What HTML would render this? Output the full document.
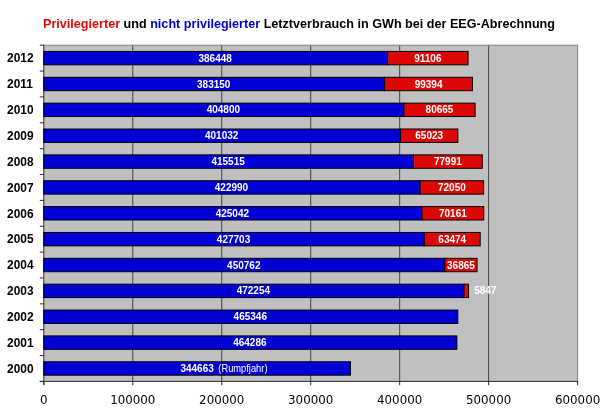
<!DOCTYPE html>
<html><head><meta charset="utf-8"><title>EEG Letztverbrauch</title>
<style>
html,body{margin:0;padding:0;background:#fff;}
body{width:600px;height:416px;overflow:hidden;}
svg{display:block;will-change:transform;}
.t{font-family:"Liberation Sans",Arial,sans-serif;font-weight:bold;}
.ax{font-family:"DejaVu Sans",Verdana,sans-serif;font-size:11.85px;fill:#000;}
</style></head><body>
<svg width="600" height="416" viewBox="0 0 600 416">
<rect x="0" y="0" width="600" height="416" fill="#fff"/>
<rect x="43.8" y="45.2" width="533.8000000000001" height="336.2" fill="#c0c0c0"/>
<rect x="132.27" y="45.2" width="1" height="336.2" fill="#444"/>
<rect x="221.23" y="45.2" width="1" height="336.2" fill="#444"/>
<rect x="310.20" y="45.2" width="1" height="336.2" fill="#444"/>
<rect x="399.17" y="45.2" width="1" height="336.2" fill="#444"/>
<rect x="488.13" y="45.2" width="1" height="336.2" fill="#444"/>
<rect x="43.8" y="44.7" width="534.3000000000001" height="1" fill="#808080"/>
<rect x="577.1" y="44.7" width="1" height="336.7" fill="#808080"/>
<rect x="43.3" y="44.7" width="1" height="340.2" fill="#2a2a2a"/>
<rect x="39.8" y="380.9" width="538.3000000000001" height="1" fill="#2a2a2a"/>
<rect x="39.8" y="44.70" width="4" height="1" fill="#2a2a2a"/>
<rect x="39.8" y="70.56" width="4" height="1" fill="#2a2a2a"/>
<rect x="39.8" y="96.42" width="4" height="1" fill="#2a2a2a"/>
<rect x="39.8" y="122.28" width="4" height="1" fill="#2a2a2a"/>
<rect x="39.8" y="148.15" width="4" height="1" fill="#2a2a2a"/>
<rect x="39.8" y="174.01" width="4" height="1" fill="#2a2a2a"/>
<rect x="39.8" y="199.87" width="4" height="1" fill="#2a2a2a"/>
<rect x="39.8" y="225.73" width="4" height="1" fill="#2a2a2a"/>
<rect x="39.8" y="251.59" width="4" height="1" fill="#2a2a2a"/>
<rect x="39.8" y="277.45" width="4" height="1" fill="#2a2a2a"/>
<rect x="39.8" y="303.32" width="4" height="1" fill="#2a2a2a"/>
<rect x="39.8" y="329.18" width="4" height="1" fill="#2a2a2a"/>
<rect x="39.8" y="355.04" width="4" height="1" fill="#2a2a2a"/>
<rect x="39.8" y="380.90" width="4" height="1" fill="#2a2a2a"/>
<rect x="43.30" y="381.4" width="1" height="3.8" fill="#2a2a2a"/>
<rect x="132.27" y="381.4" width="1" height="3.8" fill="#2a2a2a"/>
<rect x="221.23" y="381.4" width="1" height="3.8" fill="#2a2a2a"/>
<rect x="310.20" y="381.4" width="1" height="3.8" fill="#2a2a2a"/>
<rect x="399.17" y="381.4" width="1" height="3.8" fill="#2a2a2a"/>
<rect x="488.13" y="381.4" width="1" height="3.8" fill="#2a2a2a"/>
<rect x="577.10" y="381.4" width="1" height="3.8" fill="#2a2a2a"/>
<rect x="43.80" y="51.43" width="343.81" height="13.4" fill="#0000d4" stroke="#000" stroke-width="1"/>
<rect x="387.61" y="51.43" width="80.45" height="13.4" fill="#dd0806" stroke="#000" stroke-width="1"/>
<text class="t" x="7.1" y="62.43" font-size="11.9" fill="#000">2012</text>
<text class="t" x="215.20" y="61.73" font-size="10" fill="#fff" text-anchor="middle">386448</text>
<text class="t" x="427.84" y="61.73" font-size="10" fill="#fff" text-anchor="middle">91106</text>
<rect x="43.80" y="77.29" width="340.88" height="13.4" fill="#0000d4" stroke="#000" stroke-width="1"/>
<rect x="384.68" y="77.29" width="87.83" height="13.4" fill="#dd0806" stroke="#000" stroke-width="1"/>
<text class="t" x="7.1" y="88.29" font-size="11.9" fill="#000">2011</text>
<text class="t" x="213.74" y="87.59" font-size="10" fill="#fff" text-anchor="middle">383150</text>
<text class="t" x="428.59" y="87.59" font-size="10" fill="#fff" text-anchor="middle">99394</text>
<rect x="43.80" y="103.15" width="360.14" height="13.4" fill="#0000d4" stroke="#000" stroke-width="1"/>
<rect x="403.94" y="103.15" width="71.16" height="13.4" fill="#dd0806" stroke="#000" stroke-width="1"/>
<text class="t" x="7.1" y="114.15" font-size="11.9" fill="#000">2010</text>
<text class="t" x="223.37" y="113.45" font-size="10" fill="#fff" text-anchor="middle">404800</text>
<text class="t" x="439.52" y="113.45" font-size="10" fill="#fff" text-anchor="middle">80665</text>
<rect x="43.80" y="129.02" width="356.78" height="13.4" fill="#0000d4" stroke="#000" stroke-width="1"/>
<rect x="400.58" y="129.02" width="57.25" height="13.4" fill="#dd0806" stroke="#000" stroke-width="1"/>
<text class="t" x="7.1" y="140.02" font-size="11.9" fill="#000">2009</text>
<text class="t" x="221.69" y="139.32" font-size="10" fill="#fff" text-anchor="middle">401032</text>
<text class="t" x="429.21" y="139.32" font-size="10" fill="#fff" text-anchor="middle">65023</text>
<rect x="43.80" y="154.88" width="369.67" height="13.4" fill="#0000d4" stroke="#000" stroke-width="1"/>
<rect x="413.47" y="154.88" width="68.79" height="13.4" fill="#dd0806" stroke="#000" stroke-width="1"/>
<text class="t" x="7.1" y="165.88" font-size="11.9" fill="#000">2008</text>
<text class="t" x="228.13" y="165.18" font-size="10" fill="#fff" text-anchor="middle">415515</text>
<text class="t" x="447.86" y="165.18" font-size="10" fill="#fff" text-anchor="middle">77991</text>
<rect x="43.80" y="180.74" width="376.32" height="13.4" fill="#0000d4" stroke="#000" stroke-width="1"/>
<rect x="420.12" y="180.74" width="63.50" height="13.4" fill="#dd0806" stroke="#000" stroke-width="1"/>
<text class="t" x="7.1" y="191.74" font-size="11.9" fill="#000">2007</text>
<text class="t" x="231.46" y="191.04" font-size="10" fill="#fff" text-anchor="middle">422990</text>
<text class="t" x="451.87" y="191.04" font-size="10" fill="#fff" text-anchor="middle">72050</text>
<rect x="43.80" y="206.60" width="378.15" height="13.4" fill="#0000d4" stroke="#000" stroke-width="1"/>
<rect x="421.95" y="206.60" width="61.82" height="13.4" fill="#dd0806" stroke="#000" stroke-width="1"/>
<text class="t" x="7.1" y="217.60" font-size="11.9" fill="#000">2006</text>
<text class="t" x="232.37" y="216.90" font-size="10" fill="#fff" text-anchor="middle">425042</text>
<text class="t" x="452.86" y="216.90" font-size="10" fill="#fff" text-anchor="middle">70161</text>
<rect x="43.80" y="232.46" width="380.51" height="13.4" fill="#0000d4" stroke="#000" stroke-width="1"/>
<rect x="424.31" y="232.46" width="55.87" height="13.4" fill="#dd0806" stroke="#000" stroke-width="1"/>
<text class="t" x="7.1" y="243.46" font-size="11.9" fill="#000">2005</text>
<text class="t" x="233.56" y="242.76" font-size="10" fill="#fff" text-anchor="middle">427703</text>
<text class="t" x="452.25" y="242.76" font-size="10" fill="#fff" text-anchor="middle">63474</text>
<rect x="43.80" y="258.32" width="401.03" height="13.4" fill="#0000d4" stroke="#000" stroke-width="1"/>
<rect x="444.83" y="258.32" width="32.20" height="13.4" fill="#dd0806" stroke="#000" stroke-width="1"/>
<text class="t" x="7.1" y="269.32" font-size="11.9" fill="#000">2004</text>
<text class="t" x="243.81" y="268.62" font-size="10" fill="#fff" text-anchor="middle">450762</text>
<text class="t" x="460.93" y="268.62" font-size="10" fill="#fff" text-anchor="middle">36865</text>
<rect x="43.80" y="284.18" width="420.15" height="13.4" fill="#0000d4" stroke="#000" stroke-width="1"/>
<rect x="463.95" y="284.18" width="4.60" height="13.4" fill="#dd0806" stroke="#000" stroke-width="1"/>
<text class="t" x="7.1" y="295.18" font-size="11.9" fill="#000">2003</text>
<text class="t" x="253.37" y="294.48" font-size="10" fill="#fff" text-anchor="middle">472254</text>
<text class="t" x="474.15" y="294.48" font-size="10" fill="#fff">5847</text>
<rect x="43.80" y="310.05" width="414.00" height="13.4" fill="#0000d4" stroke="#000" stroke-width="1"/>
<text class="t" x="7.1" y="321.05" font-size="11.9" fill="#000">2002</text>
<text class="t" x="250.30" y="320.35" font-size="10" fill="#fff" text-anchor="middle">465346</text>
<rect x="43.80" y="335.91" width="413.06" height="13.4" fill="#0000d4" stroke="#000" stroke-width="1"/>
<text class="t" x="7.1" y="346.91" font-size="11.9" fill="#000">2001</text>
<text class="t" x="249.83" y="346.21" font-size="10" fill="#fff" text-anchor="middle">464286</text>
<rect x="43.80" y="361.77" width="306.64" height="13.4" fill="#0000d4" stroke="#000" stroke-width="1"/>
<text class="t" x="7.1" y="372.77" font-size="11.9" fill="#000">2000</text>
<text class="t w" x="180.4" y="372.07" font-size="10" fill="#fff">344663</text>
<text class="t w" x="218.3" y="372.07" font-size="10" fill="#fff" font-weight="normal" style="font-weight:normal" textLength="49.2" lengthAdjust="spacingAndGlyphs">(Rumpfjahr)</text>
<text class="ax" x="43.80" y="404" text-anchor="middle">0</text>
<text class="ax" x="132.77" y="404" text-anchor="middle">100000</text>
<text class="ax" x="221.73" y="404" text-anchor="middle">200000</text>
<text class="ax" x="310.70" y="404" text-anchor="middle">300000</text>
<text class="ax" x="399.67" y="404" text-anchor="middle">400000</text>
<text class="ax" x="488.63" y="404" text-anchor="middle">500000</text>
<text class="ax" x="577.60" y="404" text-anchor="middle">600000</text>
<text class="t" x="43" y="28.3" font-size="13" textLength="512" lengthAdjust="spacingAndGlyphs"><tspan fill="#dd0806">Privilegierter</tspan><tspan fill="#000"> und </tspan><tspan fill="#0000d4">nicht privilegierter</tspan><tspan fill="#000"> Letztverbrauch in GWh bei der EEG-Abrechnung</tspan></text>
</svg></body></html>
